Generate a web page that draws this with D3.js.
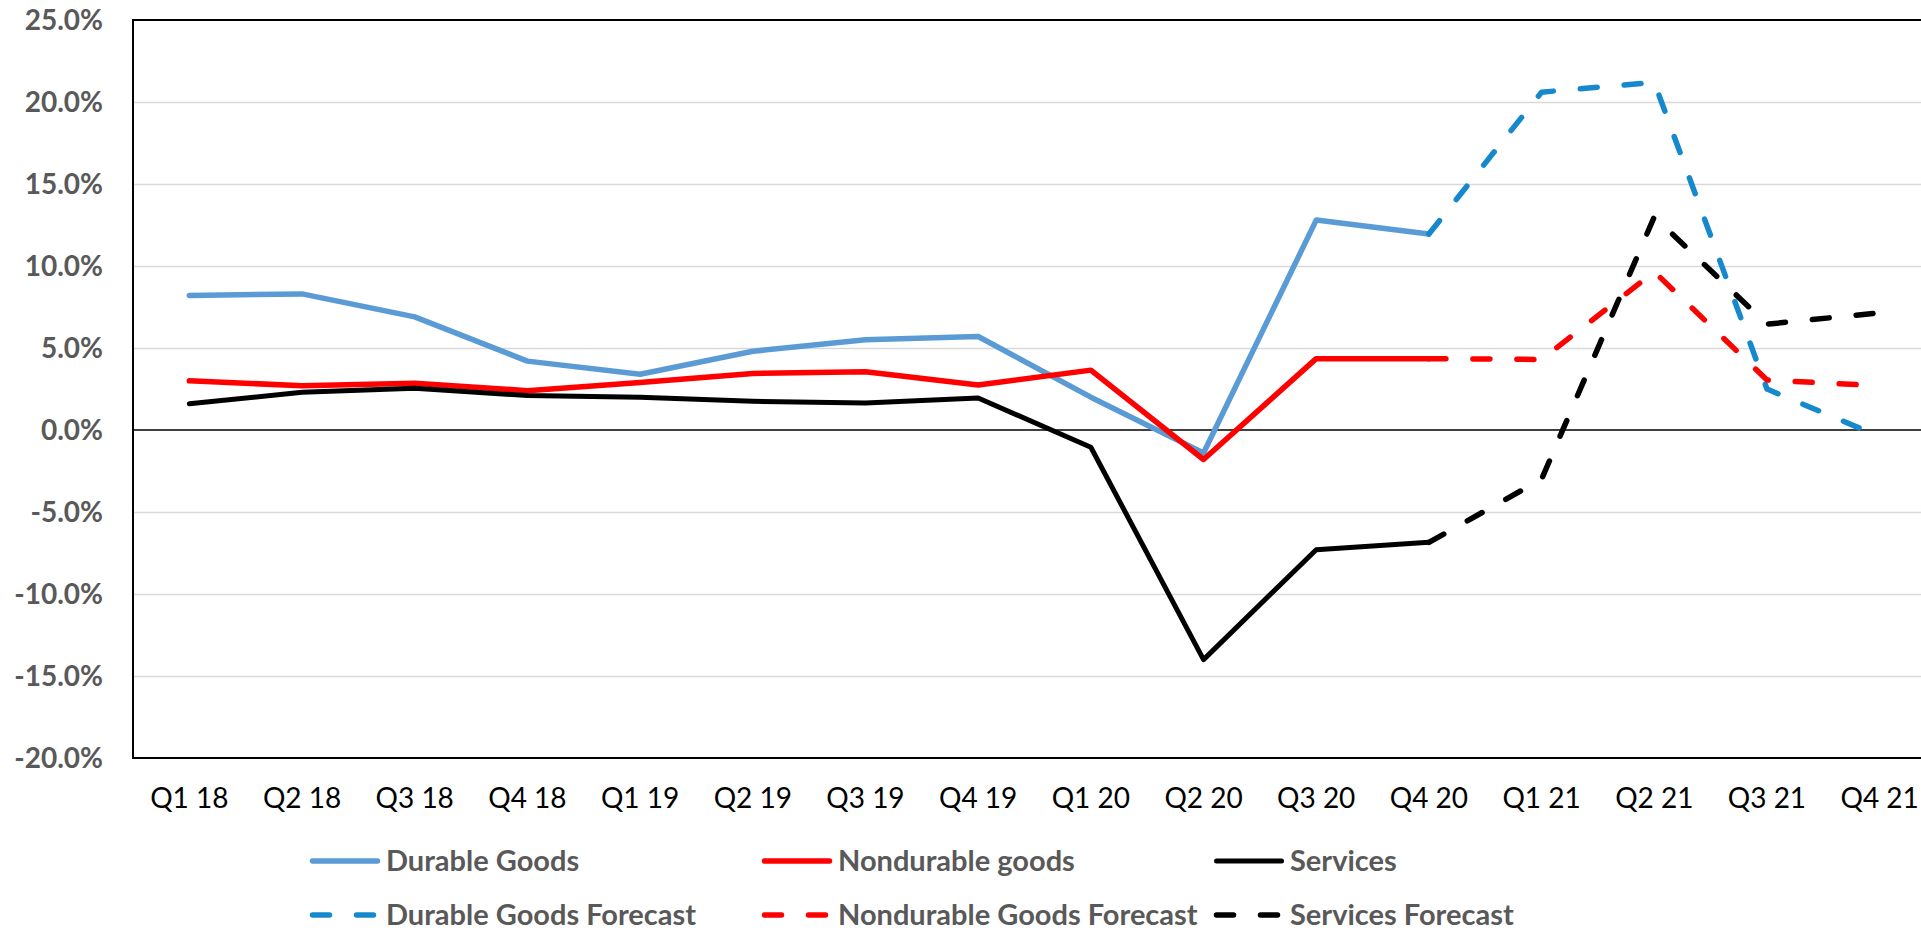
<!DOCTYPE html>
<html lang="en">
<head>
    <meta charset="UTF-8">
    <title>Consumer Spending Growth by Type</title>
    <script src="https://d3js.org/d3.v7.min.js"></script>
    <style>
        body {
            margin: 0;
            background: #fff;
            overflow: hidden;
        }
        svg {
            display: block;
            font-family: Lato, 'Open Sans', sans-serif;
        }
        .grid line {
            stroke: #d9d9d9;
            stroke-width: 1.5px;
        }
        .grid path {
            display: none;
        }
        .y-label {
            font-size: 28px;
            font-weight: bold;
            fill: #595959;
        }
        .x-label {
            font-size: 28px;
            fill: #000;
        }
        .legend text {
            font-size: 29px;
            font-weight: bold;
            fill: #595959;
        }
    </style>
</head>
<body>
    <svg id="chart" width="1921" height="930"></svg>
    <script>
        // data (percent)
        const quarters = ["Q1 18", "Q2 18", "Q3 18", "Q4 18", "Q1 19", "Q2 19", "Q3 19", "Q4 19",
                          "Q1 20", "Q2 20", "Q3 20", "Q4 20", "Q1 21", "Q2 21", "Q3 21", "Q4 21"];
        const yTicks = [25, 20, 15, 10, 5, 0, -5, -10, -15, -20];

        const durable    = [8.2, 8.3, 6.9, 4.2, 3.4, 4.8, 5.5, 5.7, 2.0, -1.4, 12.8, 11.95, null, null, null, null];
        const nondurable = [3.0, 2.7, 2.85, 2.4, 2.9, 3.45, 3.55, 2.75, 3.65, -1.8, 4.35, 4.35, null, null, null, null];
        const services   = [1.6, 2.3, 2.55, 2.1, 2.0, 1.75, 1.65, 1.95, -1.05, -14.0, -7.3, -6.85, null, null, null, null];

        const durableForecast    = [null, null, null, null, null, null, null, null, null, null, null, 11.95, 20.6, 21.2, 2.5, -0.4];
        const nondurableForecast = [null, null, null, null, null, null, null, null, null, null, null, 4.35, 4.3, 9.65, 3.05, 2.7];
        const servicesForecast   = [null, null, null, null, null, null, null, null, null, null, null, -6.85, -3.0, 13.0, 6.45, 7.15];

        const series = [
            { name: "Durable Goods", values: durable, color: "#5b9bd5", width: 5.5, dashed: false },
            { name: "Nondurable goods", values: nondurable, color: "#ff0000", width: 5.5, dashed: false },
            { name: "Services", values: services, color: "#000000", width: 5, dashed: false },
            { name: "Durable Goods Forecast", values: durableForecast, color: "#1689cc", width: 5.5, dashed: true },
            { name: "Nondurable Goods Forecast", values: nondurableForecast, color: "#ff0000", width: 5.5, dashed: true },
            { name: "Services Forecast", values: servicesForecast, color: "#000000", width: 5.5, dashed: true }
        ];

        const svg = d3.select('#chart');

        // plot area (the right side runs past the window, as in the original)
        const plotLeft = 133, plotTop = 20, plotRight = 1936, plotBottom = 758;

        const x = d3.scaleBand()
            .domain(quarters)
            .range([plotLeft, plotRight])
            .padding(0);

        const y = d3.scaleLinear()
            .domain([-20, 25])
            .range([plotBottom, plotTop]);

        // gridlines
        svg.append('g')
            .attr('class', 'grid')
            .attr('transform', 'translate(' + plotLeft + ',0)')
            .call(d3.axisLeft(y).tickValues(yTicks.filter(function(t) { return t !== 0 && t !== 25 && t !== -20; }))
                .tickSize(-(plotRight - plotLeft)).tickFormat(''));

        // y labels
        svg.append('g')
            .selectAll('text')
            .data(yTicks)
            .enter().append('text')
            .attr('class', 'y-label')
            .attr('x', 103)
            .attr('y', function(d) { return y(d); })
            .attr('dy', '0.36em')
            .attr('text-anchor', 'end')
            .text(function(d) { return d.toFixed(1) + '%'; });

        // x labels
        svg.append('g')
            .selectAll('text')
            .data(quarters)
            .enter().append('text')
            .attr('class', 'x-label')
            .attr('x', function(d) { return x(d) + x.bandwidth() / 2; })
            .attr('y', 808)
            .attr('text-anchor', 'middle')
            .text(function(d) { return d; });

        // zero line
        svg.append('line')
            .attr('x1', plotLeft).attr('x2', plotRight)
            .attr('y1', y(0)).attr('y2', y(0))
            .attr('stroke', '#000').attr('stroke-width', 1.5);

        // plot border
        svg.append('rect')
            .attr('x', plotLeft).attr('y', plotTop)
            .attr('width', plotRight - plotLeft).attr('height', plotBottom - plotTop)
            .attr('fill', 'none')
            .attr('stroke', '#000')
            .attr('stroke-width', 2);

        const line = d3.line()
            .defined(function(d) { return d !== null; })
            .x(function(d, i) { return x(quarters[i]) + x.bandwidth() / 2; })
            .y(function(d) { return y(d); });

        series.forEach(function(s) {
            svg.append('path')
                .datum(s.values)
                .attr('fill', 'none')
                .attr('stroke', s.color)
                .attr('stroke-width', s.width)
                .attr('stroke-linejoin', 'round')
                .attr('stroke-linecap', 'round')
                .attr('stroke-dasharray', s.dashed ? '17,27' : null)
                .attr('d', line);
        });

        // legend, two rows of three
        const legendCols = [310, 762, 1214];
        const legendRows = [861, 915];
        const legend = svg.append('g').attr('class', 'legend');

        series.forEach(function(s, i) {
            const lx = legendCols[i % 3];
            const ly = legendRows[Math.floor(i / 3)];
            legend.append('line')
                .attr('x1', lx + 2.5).attr('x2', lx + 70 - 2.5)
                .attr('y1', ly).attr('y2', ly)
                .attr('stroke', s.color)
                .attr('stroke-width', s.width)
                .attr('stroke-linecap', 'round')
                .attr('stroke-dasharray', s.dashed ? '17,27' : null);
            legend.append('text')
                .attr('x', lx + 76)
                .attr('y', ly)
                .attr('dy', '0.36em')
                .text(s.name);
        });
    </script>
</body>
</html>
